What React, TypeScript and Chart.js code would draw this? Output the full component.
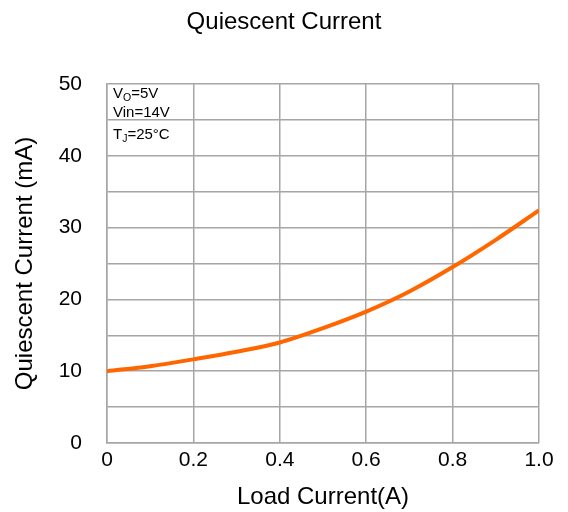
import React, { useEffect, useRef } from "react";
import { Chart, registerables } from "chart.js";

Chart.register(...registerables);

const loadCurrent = [0, 0.1, 0.2, 0.3, 0.4, 0.5, 0.6, 0.7, 0.8, 0.9, 1.0];
const quiescentCurrent = [10.0, 10.7, 11.65, 12.7, 14.0, 16.0, 18.3, 21.1, 24.5, 28.3, 32.4];
const xTickLabels = ["0", "0.2", "0.4", "0.6", "0.8", "1.0"];
const yTickLabels = ["0", "10", "20", "30", "40", "50"];
const chartTitle = "Quiescent Current";
const xTitle = "Load Current(A)";
const yTitle = "Quiescent Current (mA)";

const FONT = "'Liberation Sans', Arial, Helvetica, sans-serif";

const notePlugin = {
  id: "notes",
  afterDraw(chart: any) {
    const { ctx, chartArea } = chart;
    const x0 = chartArea.left + 6;
    const y0 = chartArea.top;
    ctx.save();
    ctx.fillStyle = "#000";
    ctx.textBaseline = "alphabetic";
    ctx.textAlign = "left";
    const big = `15px ${FONT}`;
    const small = `10.5px ${FONT}`;
    // line 1: V_O=5V
    let x = x0;
    ctx.font = big;
    ctx.fillText("V", x, y0 + 14);
    x += ctx.measureText("V").width;
    ctx.font = small;
    ctx.fillText("O", x, y0 + 17);
    x += ctx.measureText("O").width;
    ctx.font = big;
    ctx.fillText("=5V", x, y0 + 14);
    // line 2
    ctx.fillText("Vin=14V", x0, y0 + 33);
    // line 3: T_J=25°C
    x = x0;
    ctx.fillText("T", x, y0 + 55);
    x += ctx.measureText("T").width;
    ctx.font = small;
    ctx.fillText("J", x, y0 + 58);
    x += ctx.measureText("J").width;
    ctx.font = big;
    ctx.fillText("=25°C", x, y0 + 55);
    ctx.restore();
  },
};

export default function App() {
  const ref = useRef<HTMLCanvasElement>(null);
  useEffect(() => {
    document.body.style.margin = "0";
    const canvas = ref.current!;
    const chart = new Chart(canvas, {
      type: "line",
      data: {
        datasets: [
          {
            data: loadCurrent.map((x, i) => ({ x, y: quiescentCurrent[i] })),
            borderColor: "#ff6600",
            borderWidth: 4,
            pointRadius: 0,
            cubicInterpolationMode: "monotone",
            fill: false,
            yAxisID: "y",
          },
        ],
      },
      options: {
        animation: false,
        responsive: false,
        maintainAspectRatio: false,
        layout: { padding: 0 },
        plugins: {
          legend: { display: false },
          tooltip: { enabled: false },
          title: {
            display: true,
            text: chartTitle,
            color: "#000",
            font: { family: FONT, size: 24, weight: "normal" },
            padding: { top: 8, bottom: 47.2 },
          },
        },
        scales: {
          x: {
            type: "linear",
            min: 0,
            max: 1,
            afterFit(scale: any) {
              scale.height = 69;
            },
            ticks: {
              stepSize: 0.2,
              color: "#000",
              font: { family: FONT, size: 21 },
              padding: 5,
              maxRotation: 0,
              callback: (_v: any, i: number) => xTickLabels[i] ?? "",
            },
            grid: { color: "#a6a6a6", lineWidth: 1.5, drawTicks: false },
            border: { color: "#a6a6a6", width: 1.5 },
            title: {
              display: true,
              text: xTitle,
              color: "#000",
              font: { family: FONT, size: 24 },
              padding: { top: 0, bottom: 0 },
            },
          },
          y: {
            type: "linear",
            position: "left",
            min: 0,
            max: 50,
            afterFit(scale: any) {
              scale.width = 107;
            },
            ticks: {
              stepSize: 5,
              autoSkip: false,
              color: "#000",
              font: { family: FONT, size: 21 },
              padding: 25,
              callback: (v: any) => (Number(v) % 10 === 0 ? yTickLabels[Number(v) / 10] : ""),
            },
            grid: { color: "#a6a6a6", lineWidth: 1.5, drawTicks: false },
            border: { color: "#a6a6a6", width: 1.5 },
            title: {
              display: true,
              text: yTitle,
              color: "#000",
              font: { family: FONT, size: 24 },
              padding: { top: 11, bottom: 0 },
            },
          },
          yRight: {
            type: "linear",
            position: "right",
            min: 0,
            max: 50,
            afterFit(scale: any) {
              scale.width = 29;
            },
            ticks: { display: false },
            grid: { display: false, drawTicks: false },
            border: { display: false },
          },
        },
      },
      plugins: [notePlugin],
    } as any);
    return () => chart.destroy();
  }, []);
  return (
    <div style={{ position: "absolute", left: 0, top: 0, width: 568, height: 512 }}>
      <canvas ref={ref} width={568} height={512} style={{ width: 568, height: 512 }} />
    </div>
  );
}
